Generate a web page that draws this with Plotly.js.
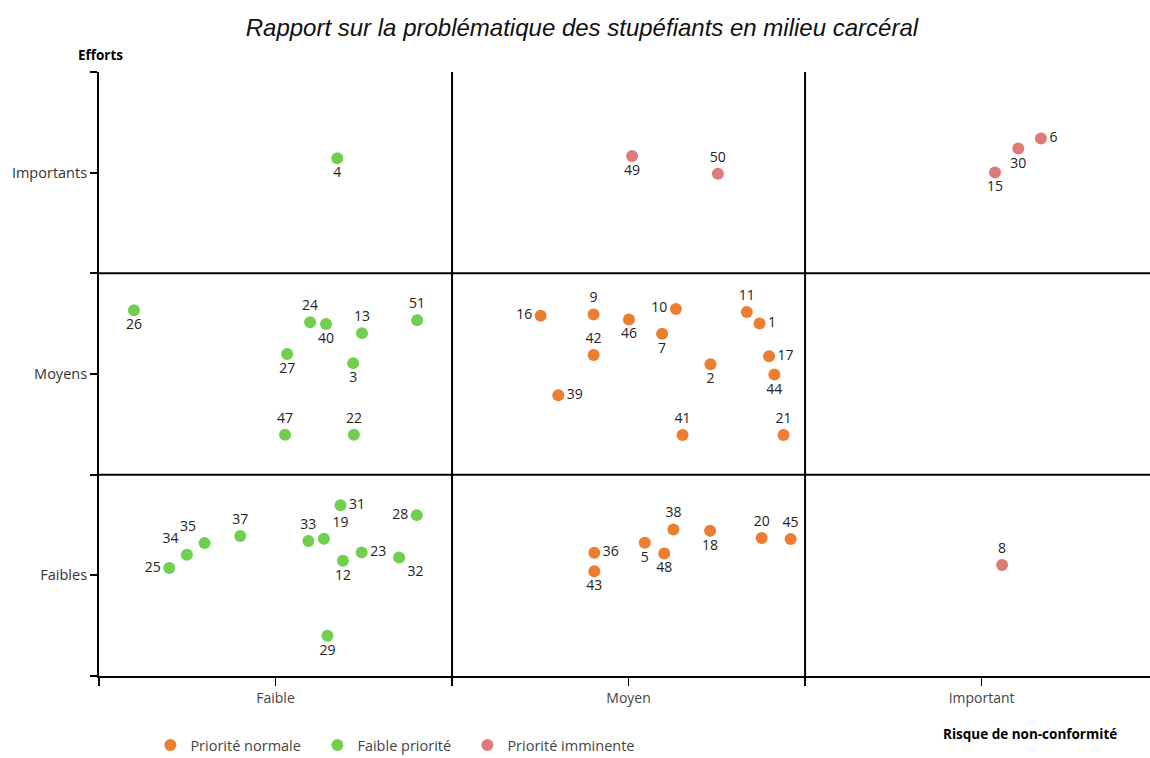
<!DOCTYPE html>
<html><head><meta charset="utf-8">
<script src="https://cdn.plot.ly/plotly-3.0.1.min.js"></script>
<style>body{margin:0;background:#fff}#c{width:1150px;height:758px}</style>
</head><body><div id="c"></div>
<script>
// Risk (x) / effort (y) coordinates
const normalIds = ['16','9','46','10','7','11','1','42','2','17','44','39','41','21','36','43','5','48','38','18','20','45'];
const normalX = [1.251,1.401,1.501,1.634,1.595,1.835,1.871,1.401,1.732,1.898,1.913,1.301,1.653,1.939,1.403,1.403,1.546,1.601,1.627,1.731,1.877,1.959];
const normalY = [1.789,1.796,1.771,1.823,1.700,1.808,1.751,1.594,1.548,1.588,1.497,1.395,1.197,1.197,0.612,0.520,0.662,0.609,0.728,0.721,0.685,0.680];
const normalLabelPos = ['middle left','top center','bottom center','middle left','bottom center','top center','middle right','top center','bottom center','middle right','bottom center','middle right','top center','top center','middle right','bottom center','bottom center','bottom center','top center','bottom center','top center','top center'];

const lowIds = ['4','26','24','40','13','51','27','3','47','22','31','28','37','35','34','25','33','19','12','23','32','29'];
const lowX = [0.675,0.099,0.598,0.643,0.745,0.901,0.533,0.720,0.527,0.722,0.684,0.900,0.400,0.299,0.249,0.199,0.593,0.637,0.691,0.744,0.850,0.647];
const lowY = [2.572,1.817,1.757,1.748,1.703,1.767,1.599,1.554,1.198,1.198,0.848,0.799,0.695,0.660,0.602,0.536,0.670,0.682,0.573,0.614,0.589,0.200];
const lowLabelPos = ['bottom center','bottom center','top center','bottom center','top center','top center','bottom center','bottom center','top center','top center','middle right','middle left','top center','top left','top left','middle left','top center','top right','bottom center','middle right','bottom right','bottom center'];

const urgentIds = ['49','50','15','30','6','8'];
const urgentX = [1.510,1.753,2.538,2.604,2.668,2.558];
const urgentY = [2.583,2.495,2.501,2.620,2.670,0.551];
const urgentLabelPos = ['bottom center','top center','bottom center','bottom center','middle right','top center'];

const seriesNames = ['Priorité normale','Faible priorité','Priorité imminente'];
const xTickVals = [0,0.5,1,1.5,2,2.5];
const xTickText = ['','Faible','','Moyen','','Important'];
const yTickVals = [0,0.5,1,1.5,2,2.5,3];
const yTickText = ['','Faibles','','Moyens','','Importants',''];

const COLORS = ['#ED7D31','#70CF4F','#DD7B7A'];
function mk(name, ids, x, y, pos, color, leg){
  return {type:'scatter', mode:'markers+text', name, x, y, text:ids, textposition:pos, legend:leg,
    textfont:{family:'Open Sans, sans-serif', size:14, color:'#222'},
    marker:{size:12, color}, cliponaxis:false, hoverinfo:'skip'};
}
const data = [
  mk(seriesNames[0], normalIds, normalX, normalY, normalLabelPos, COLORS[0], 'legend'),
  mk(seriesNames[1], lowIds, lowX, lowY, lowLabelPos, COLORS[1], 'legend2'),
  mk(seriesNames[2], urgentIds, urgentX, urgentY, urgentLabelPos, COLORS[2], 'legend3')
];
const shapes = [];
[1,2].forEach(v=>{
  shapes.push({type:'line', xref:'x', yref:'paper', x0:v, x1:v, y0:0, y1:1, line:{color:'#000', width:2}});
  shapes.push({type:'line', xref:'paper', yref:'y', x0:0, x1:1, y0:v, y1:v, line:{color:'#000', width:2}});
});
const legFont = {family:'Open Sans, sans-serif', size:14.5, color:'#444'};
function leg(x){ return {orientation:'h', x, xanchor:'left', y:-0.1408, yanchor:'bottom', font:legFont, bgcolor:'rgba(0,0,0,0)'}; }
const layout = {
  width:1150, height:758,
  margin:{l:99, r:0, t:72, b:82, autoexpand:false},
  paper_bgcolor:'#fff', plot_bgcolor:'#fff',
  title:{text:'Rapport sur la problématique des stupéfiants en milieu carcéral',
    font:{family:'Liberation Sans, Arial, sans-serif', size:24, color:'#111', style:'italic'},
    x:0.506, xanchor:'center', y:0.963, yanchor:'middle'},
  xaxis:{range:[0,2.977], tickvals:xTickVals, ticktext:xTickText, ticks:'outside', ticklen:8, tickwidth:1.5, tickcolor:'#000',
    showline:true, linecolor:'#000', linewidth:2, showgrid:false, zeroline:false, fixedrange:true, automargin:false,
    tickfont:{family:'Open Sans, sans-serif', size:14, color:'#444'}},
  yaxis:{range:[0,3], tickvals:yTickVals, ticktext:yTickText, ticks:'outside', ticklen:7, tickwidth:2, tickcolor:'#000',
    showline:true, linecolor:'#000', linewidth:2, showgrid:false, zeroline:false, fixedrange:true, automargin:false,
    tickfont:{family:'Open Sans, sans-serif', size:14.5, color:'#333'}},
  shapes,
  showlegend:true,
  legend:leg(0.0489), legend2:leg(0.2078), legend3:leg(0.3505),
  annotations:[
    {text:'<b>Efforts</b>', xref:'paper', yref:'paper', x:-0.0215, y:1.028, xanchor:'left', yanchor:'middle', showarrow:false,
      font:{family:'Open Sans, sans-serif', size:13.5, color:'#000'}},
    {text:'<b>Risque de non-conformité</b>', xref:'paper', yref:'paper', x:0.886, y:-0.096, xanchor:'center', yanchor:'middle', showarrow:false,
      font:{family:'Open Sans, sans-serif', size:13.5, color:'#000'}}
  ]
};
Plotly.newPlot('c', data, layout, {displayModeBar:false, staticPlot:true});
</script></body></html>
